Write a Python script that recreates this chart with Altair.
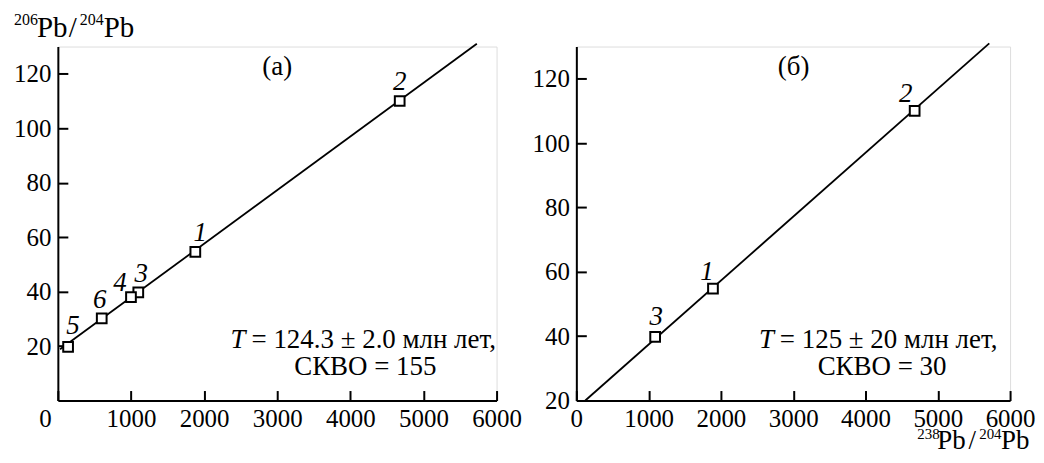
import altair as alt
import pandas as pd

FONT = "Liberation Serif, Times New Roman, serif"

# ---------------- data ----------------
# panel (а)
a_ids = ["1", "2", "3", "4", "5", "6"]
a_x = [1880, 4675, 1100, 1000, 140, 600]
a_y = [54.6, 110.0, 39.7, 38.0, 19.7, 30.2]
a_line_x = [30, 5730]
a_line_y = [18.8, 131.0]

# panel (б)
b_ids = ["1", "2", "3"]
b_x = [1890, 4680, 1090]
b_y = [54.8, 110.0, 39.8]
b_line_x = [124, 5712]
b_line_y = [20.0, 131.0]

x_ticks = [0, 1000, 2000, 3000, 4000, 5000, 6000]
y_ticks = [20, 40, 60, 80, 100, 120]

a_tag = "(а)"
b_tag = "(б)"
a_ann = ["= 124.3 ± 2.0 млн лет,", "СКВО = 155"]
b_ann = ["= 125 ± 20 млн лет,", "СКВО = 30"]

# axis titles split into (text, is_superscript)
y_title_parts = [("206", True), ("Pb", False), ("/", False), ("204", True), ("Pb", False)]
x_title_parts = [("238", True), ("Pb", False), ("/", False), ("204", True), ("Pb", False)]

# ---------------- styling ----------------
# label offsets (dx, dy) in px for point numbers
a_lab_off = {"1": (5, -19), "2": (0, -19), "3": (3, -18), "4": (-11, -14), "5": (5, -21), "6": (-2, -18)}
b_lab_off = {"1": (-6, -17), "2": (-9, -17), "3": (1, -20)}

W_A, W_B, H = 440, 435, 355
TICK_FS = 25
ANN_FS = 27
Y_TITLE_FS = 29
X_TITLE_FS = 27
SUP_FS = 16
X_SUP_FS = 15

# pixel offsets of title pieces relative to plot origin (x, baseline y, font size)
y_title_pos = [(-44, -22, SUP_FS), (-21, -10, Y_TITLE_FS), (15, -10, Y_TITLE_FS),
               (22, -22, SUP_FS), (46, -10, Y_TITLE_FS)]
x_title_pos = [(342, H + 38.5, X_SUP_FS), (362, H + 48.5, X_TITLE_FS), (397, H + 48.5, X_TITLE_FS),
               (404, H + 38.5, X_SUP_FS), (426, H + 48.5, X_TITLE_FS)]


def title_layers(parts, pos):
    out = []
    df = pd.DataFrame({"t": [p[0] for p in parts]})
    for i, ((txt, sup), (px, py, fs)) in enumerate(zip(parts, pos)):
        out.append(alt.Chart(df.iloc[[i]]).mark_text(
            font=FONT, fontSize=fs, color="black",
            align="center" if txt == "/" else "left", baseline="alphabetic")
            .encode(x=alt.value(px), y=alt.value(py), text="t:N"))
    return out


def panel(ids, xs, ys, lx, ly, ydom, width, lab_off, tag, tag_xy, ann, ann_xy,
          tparts=None, tpos=None, zero_shift=0):
    pts = pd.DataFrame({"x": xs, "y": ys, "id": ids})
    line = pd.DataFrame({"x": lx, "y": ly})

    xaxis = alt.Axis(values=x_ticks, format="d", grid=False, title=None,
                     domainColor="black", domainWidth=2,
                     tickColor="black", tickWidth=2, tickSize={"expr": "-10"},
                     labelFont=FONT, labelFontSize=TICK_FS, labelColor="black",
                     labelPadding=16, labelFlush=False, labelOverlap=False,
                     labelOffset={"condition": {"test": "datum.value === 0", "value": zero_shift}, "value": 0})
    yaxis = alt.Axis(values=y_ticks, format="d", grid=False, title=None,
                     domainColor="black", domainWidth=2,
                     tickColor="black", tickWidth=2, tickSize={"expr": "-10"},
                     labelFont=FONT, labelFontSize=TICK_FS, labelColor="black",
                     labelPadding=17, labelOverlap=False)

    X = alt.X("x:Q", scale=alt.Scale(domain=[0, 6000], nice=False, zero=False), axis=xaxis)
    Y = alt.Y("y:Q", scale=alt.Scale(domain=ydom, nice=False, zero=False), axis=yaxis)

    layers = []
    layers.append(alt.Chart(line).mark_line(color="black", strokeWidth=1.8).encode(x=X, y=Y))
    layers.append(alt.Chart(pts).mark_point(shape="square", size=95, filled=True, fill="white",
                                            stroke="black", strokeWidth=2, opacity=1).encode(x=X, y=Y))
    for pid, (dx, dy) in lab_off.items():
        layers.append(alt.Chart(pts).transform_filter(alt.datum.id == pid)
                      .mark_text(font=FONT, fontSize=ANN_FS, fontStyle="italic", color="black",
                                 dx=dx, dy=dy, baseline="middle", align="center")
                      .encode(x=X, y=Y, text="id:N"))
    tag_df = pd.DataFrame({"x": [tag_xy[0]], "y": [tag_xy[1]], "t": [tag]})
    layers.append(alt.Chart(tag_df).mark_text(font=FONT, fontSize=ANN_FS, color="black",
                                              baseline="middle", align="center")
                  .encode(x=X, y=Y, text="t:N"))
    # annotation: italic T + rest of line 1, then line 2 centred
    l1 = pd.DataFrame({"x": [ann_xy[0]], "y": [ann_xy[1]], "t": [ann[0]]})
    tT = pd.DataFrame({"x": [ann_xy[0]], "y": [ann_xy[1]], "t": ["T"]})
    l2 = pd.DataFrame({"x": [ann_xy[2]], "y": [ann_xy[3]], "t": [ann[1]]})
    layers.append(alt.Chart(tT).mark_text(font=FONT, fontSize=ANN_FS, fontStyle="italic", color="black",
                                          baseline="middle", align="right", dx=-2)
                  .encode(x=X, y=Y, text="t:N"))
    layers.append(alt.Chart(l1).mark_text(font=FONT, fontSize=ANN_FS, color="black",
                                          baseline="middle", align="left", dx=4)
                  .encode(x=X, y=Y, text="t:N"))
    layers.append(alt.Chart(l2).mark_text(font=FONT, fontSize=ANN_FS, color="black",
                                          baseline="middle", align="center")
                  .encode(x=X, y=Y, text="t:N"))
    if tparts:
        layers += title_layers(tparts, tpos)
    return alt.layer(*layers).properties(width=width, height=H)


pa = panel(a_ids, a_x, a_y, a_line_x, a_line_y, [0, 130], W_A, a_lab_off, a_tag, (3000, 122.5),
           a_ann, (2594, 22.3, 4205, 12.4), tparts=y_title_parts, tpos=y_title_pos,
           zero_shift=-13)
pb = panel(b_ids, b_x, b_y, b_line_x, b_line_y, [20, 130], W_B, b_lab_off, b_tag, (3005, 123.5),
           b_ann, (2760, 38.9, 4229, 30.5), tparts=x_title_parts, tpos=x_title_pos, zero_shift=0)

chart = (alt.hconcat(pa, pb, spacing=9)
         .properties(padding={"left": 5, "top": 2, "right": 0, "bottom": 1})
         .configure_view(stroke=None)
         .configure(background="white"))

chart.save("out.html", embed_options={"renderer": "svg", "actions": False})
